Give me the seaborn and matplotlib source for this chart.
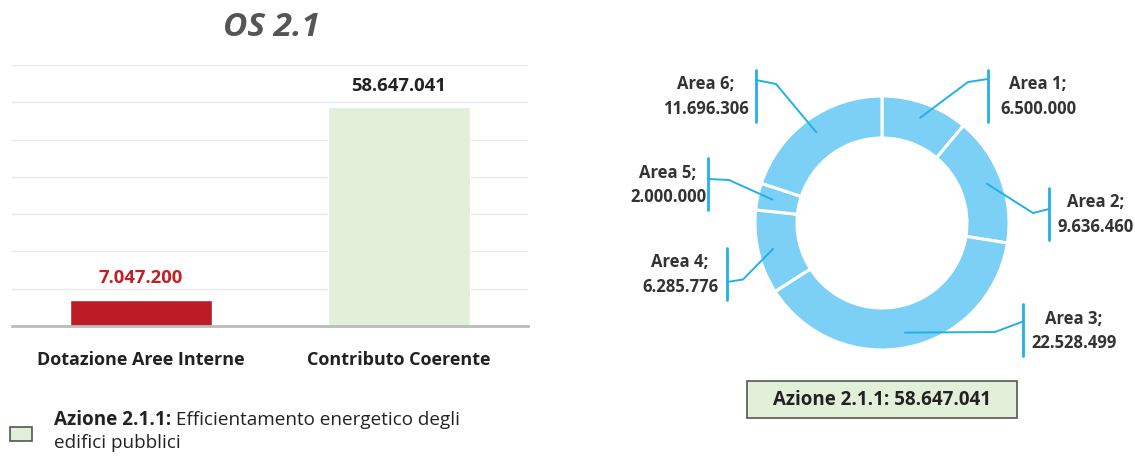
import numpy as np
import pandas as pd
import matplotlib
matplotlib.use("Agg")
import matplotlib.pyplot as plt
import seaborn as sns
from matplotlib.patches import Rectangle

# Dati del grafico a barre
categorie = ["Dotazione Aree Interne", "Contributo Coerente"]
valori = [7047200, 58647041]
colori_barre = ["#BD1C24", "#E2EFD9"]
colori_valori = ["#C0202A", "#222222"]

# Dati della ciambella
aree = ["Area 1", "Area 2", "Area 3", "Area 4", "Area 5", "Area 6"]
importi = [6500000, 9636460, 22528499, 6285776, 2000000, 11696306]
totale_azione = 58647041

titolo = "OS 2.1"
azione = "Azione 2.1.1:"
descrizione = ["Efficientamento energetico degli", "edifici pubblici"]

# Posizioni delle etichette (pixel): x staffa, y centro staffa, y aggancio, gomito, x testo
etichette_layout = [
    (988, 95.5, 79, (968, 82), 1038),
    (1049, 213.5, 209, (1033, 213), 1096),
    (1023, 330, 321.5, (995, 332), 1074),
    (727, 273.5, 282, (743, 279.5), 680),
    (708, 184, 179, (729, 180), 668),
    (756, 95.5, 80, (776, 84), 706),
]


def fmt(v):
    return f"{v:,.0f}".replace(",", ".")


sns.set_theme(style="white")
plt.rcParams["font.family"] = ["Open Sans", "DejaVu Sans"]

W, H = 1135, 457
fig = plt.figure(figsize=(W / 100, H / 100), dpi=100)


def fx(px):
    return px / W


def fy(py):
    return 1 - py / H


# Grafico a barre
ax = fig.add_axes([fx(12), fy(326), fx(528) - fx(12), fy(65) - fy(326)])
df = pd.DataFrame({"cat": categorie, "val": valori})
sns.barplot(data=df, x="cat", y="val", hue="cat", palette=colori_barre,
            width=0.55, saturation=1, legend=False, ax=ax)
ax.set_ylim(0, 70e6)
ax.set_xlim(-0.5, 1.5)
ax.set_yticks(np.arange(0, 70e6 + 1, 10e6))
ax.yaxis.grid(True, color="#e9e9e9", lw=1)
ax.set_axisbelow(True)
ax.tick_params(axis="y", left=False, labelleft=False)
ax.tick_params(axis="x", bottom=False, pad=12, labelsize=13)
for lab in ax.get_xticklabels():
    lab.set_fontweight("bold")
    lab.set_color("#222222")
sns.despine(ax=ax, left=True)
ax.spines["bottom"].set_color("#bbbbbb")
ax.spines["bottom"].set_linewidth(2)
ax.set_xlabel("")
ax.set_ylabel("")

for p, v, c in zip(ax.patches, valori, colori_valori):
    ax.annotate(fmt(v), (p.get_x() + p.get_width() / 2, p.get_height()),
                xytext=(0, 9), textcoords="offset points", ha="center", va="bottom",
                fontsize=13.3, fontweight="bold", color=c)

fig.text(fx(271), fy(27), titolo, ha="center", va="center", fontsize=24,
         fontweight="bold", fontstyle="italic", color="#555555")

# Legenda in basso
fig.add_artist(Rectangle((fx(10), fy(441)), 22 / W, 14 / H, transform=fig.transFigure,
                         facecolor="#E2EFD9", edgecolor="#555555", lw=1.2))
t1 = fig.text(fx(54), fy(420), azione, fontsize=13.6, fontweight="bold",
              color="#222222", va="center")
r = fig.canvas.get_renderer()
bb = t1.get_window_extent(renderer=r)
fig.text(bb.x1 / W, fy(420), " " + descrizione[0], fontsize=13.6, color="#222222", va="center")
fig.text(fx(54), fy(443), descrizione[1], fontsize=13.6, color="#222222", va="center")

# Ciambella
ax2 = fig.add_axes([0, 0, 1, 1], zorder=2)
cx, cy, R, r_in = 882, H - 223, 127, 85
blu = "#7DD0F5"
linea = "#22B0E6"
wedges, _ = ax2.pie(importi, colors=[blu] * len(importi), startangle=90, counterclock=False,
                    radius=R, center=(cx, cy),
                    wedgeprops=dict(width=R - r_in, edgecolor="white", linewidth=2.2))
ax2.set_xlim(0, W)
ax2.set_ylim(0, H)
ax2.set_aspect("auto")
ax2.axis("off")

for w, nome, v, (bx, by, hy, (ex, ey), tx) in zip(wedges, aree, importi, etichette_layout):
    ang = np.deg2rad((w.theta1 + w.theta2) / 2)
    ax_, ay_ = cx + 112 * np.cos(ang), cy + 112 * np.sin(ang)
    ax2.plot([ax_, ex, bx], [ay_, H - ey, H - hy], color=linea, lw=1.4)
    ax2.plot([bx, bx], [H - by - 26, H - by + 26], color=linea, lw=2)
    ax2.text(tx, H - by - 1, f"{nome};\n{fmt(v)}", ha="center", va="center",
             fontsize=12, fontweight="bold", color="#333333", linespacing=1.5)

fig.add_artist(Rectangle((fx(747), fy(418)), 270 / W, 37 / H, transform=fig.transFigure,
                         facecolor="#E2EFD9", edgecolor="#555555", lw=1.2))
fig.text(fx(882), fy(400), f"Azione 2.1.1: {fmt(totale_azione)}", ha="center", va="center",
         fontsize=13.5, fontweight="bold", color="#222222")

fig.savefig("out.png", dpi=100)
